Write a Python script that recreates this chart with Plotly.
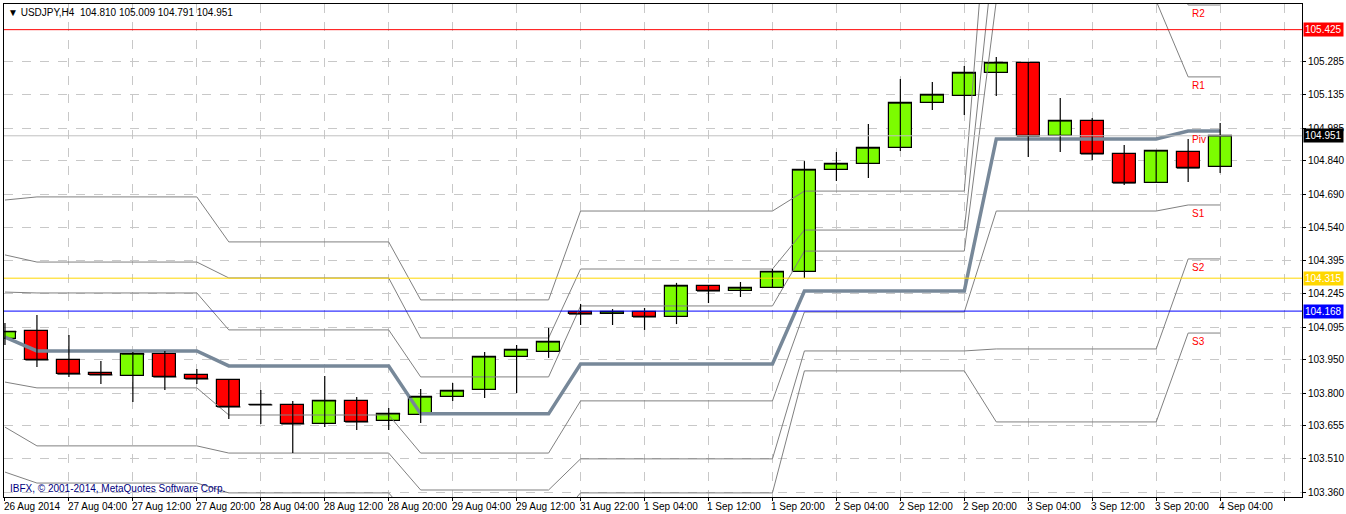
import plotly.graph_objects as go

opens = [104.042,104.079,103.950,103.892,103.878,103.976,103.883,103.860,103.749,103.749,103.664,103.767,103.677,103.704,103.784,103.816,103.963,103.985,104.164,104.155,104.164,104.142,104.280,104.258,104.271,104.343,104.798,104.825,104.896,105.097,105.129,105.231,105.276,104.950,105.017,104.870,104.740,104.879,104.812]
highs = [104.115,104.151,104.061,103.945,103.985,103.990,103.909,103.860,103.816,103.767,103.878,103.784,103.735,103.820,103.847,103.985,104.017,104.093,104.200,104.177,104.182,104.294,104.280,104.298,104.356,104.838,104.879,105.004,105.205,105.191,105.263,105.303,105.276,105.120,105.030,104.910,104.888,104.937,105.008]
lows = [104.017,103.918,103.874,103.842,103.762,103.816,103.842,103.686,103.664,103.534,103.650,103.637,103.637,103.668,103.767,103.780,103.802,103.959,104.106,104.106,104.084,104.110,104.204,104.231,104.271,104.316,104.749,104.762,104.883,105.066,105.044,105.129,104.856,104.879,104.843,104.731,104.740,104.745,104.785]
closes = [104.076,103.950,103.887,103.883,103.976,103.874,103.865,103.740,103.749,103.664,103.767,103.673,103.709,103.784,103.811,103.963,103.994,104.030,104.155,104.164,104.142,104.280,104.258,104.271,104.343,104.798,104.825,104.896,105.097,105.133,105.231,105.276,104.950,105.017,104.870,104.740,104.883,104.807,104.950]

# day index of every candle
candle_day = [0] + [1]*6 + [2]*6 + [3]*5 + [4]*7 + [5]*6 + [6]*6 + [7]*2

# daily pivot levels: R3, R2, R1, Pivot, S1, S2, S3
R3 = [104.664,104.678,104.477,104.218,104.615,104.704,106.491,105.785]
R2 = [104.419,104.387,104.316,104.048,104.356,104.530,105.875,105.535]
R1 = [104.253,104.249,104.084,103.874,104.191,104.436,105.553,105.214]
PIV = [104.052,103.990,103.923,103.709,103.932,104.258,104.937,104.972]
S1 = [103.851,103.825,103.704,103.534,103.767,104.164,104.615,104.642]
S2 = [103.650,103.566,103.534,103.369,103.508,103.990,103.999,104.401]
S3 = [103.449,103.400,103.356,103.190,103.356,103.901,103.673,104.070]

x_labels = {0:"26 Aug 2014",2:"27 Aug 04:00",4:"27 Aug 12:00",6:"27 Aug 20:00",8:"28 Aug 04:00",
            10:"28 Aug 12:00",12:"28 Aug 20:00",14:"29 Aug 04:00",16:"29 Aug 12:00",18:"31 Aug 22:00",
            20:"1 Sep 04:00",22:"1 Sep 12:00",24:"1 Sep 20:00",26:"2 Sep 04:00",28:"2 Sep 12:00",
            30:"2 Sep 20:00",32:"3 Sep 04:00",34:"3 Sep 12:00",36:"3 Sep 20:00",38:"4 Sep 04:00"}
y_ticks = [105.285,105.135,104.985,104.840,104.690,104.540,104.395,104.245,104.095,103.950,103.800,103.655,103.510,103.360]

hlines = [(105.425,"#FF0000","white"),(104.951,"#C0C0C0",None),(104.315,"#FFD700","white"),(104.168,"#0000FF","white")]

FONT = "Liberation Sans"
FS = 10

n = len(opens)
xs = list(range(n))
fig = go.Figure()

for hv, col, _ in hlines:
    fig.add_shape(type="line", xref="paper", x0=0, x1=1, y0=hv, y1=hv, line=dict(color=col, width=1))

for lvl in [R3, R2, R1, S1, S2, S3]:
    fig.add_trace(go.Scatter(x=xs, y=[lvl[d] for d in candle_day], mode="lines",
                             line=dict(color="#808080", width=1), hoverinfo="skip"))
fig.add_trace(go.Scatter(x=xs, y=[PIV[d] for d in candle_day], mode="lines",
                         line=dict(color="#778899", width=3.5), hoverinfo="skip"))

wx, wy = [], []
for i in xs:
    wx += [i, i, None]; wy += [lows[i], highs[i], None]
fig.add_trace(go.Scatter(x=wx, y=wy, mode="lines", line=dict(color="black", width=1.2), hoverinfo="skip"))

cols = ["#7CFC00" if c >= o else "#FF0000" for o, c in zip(opens, closes)]
fig.add_trace(go.Bar(x=xs, base=[min(o, c) for o, c in zip(opens, closes)],
                     y=[abs(c - o) for o, c in zip(opens, closes)], width=0.72,
                     marker=dict(color=cols, line=dict(color="black", width=1.2))))
bx, by = [], []
for i in xs:
    bx += [i-0.36, i+0.36, None]; by += [closes[i], closes[i], None]
fig.add_trace(go.Scatter(x=bx, y=by, mode="lines", line=dict(color="black", width=1.2), hoverinfo="skip"))

ann = []
for i, t in x_labels.items():
    ann.append(dict(x=i, y=0, xref="x", yref="paper", yshift=-2, text=t, showarrow=False,
                    xanchor="left", yanchor="top", xshift=-3, font=dict(size=FS, color="black")))
for hv, col, fc in hlines:
    if fc is None:
        col, fc = "black", "white"
    ann.append(dict(x=1, y=hv, xref="paper", yref="y", text=f"{hv:.3f}", showarrow=False,
                    xanchor="left", yanchor="middle", xshift=1, bgcolor=col, borderpad=1,
                    font=dict(size=FS, color=fc)))
last = candle_day[-1]
for name, lvl in [("R2", R2), ("R1", R1), ("Piv", PIV), ("S1", S1), ("S2", S2), ("S3", S3)]:
    ann.append(dict(x=37.05, y=lvl[last], xref="x", yref="y", text=name, showarrow=False,
                    xanchor="left", yanchor="top", yshift=-1, font=dict(size=FS, color="#FF0000")))
ann.append(dict(x=0, y=1, xref="paper", yref="paper", text="▼ USDJPY,H4  104.810 105.009 104.791 104.951",
                showarrow=False, xanchor="left", yanchor="top", xshift=2, yshift=-1, font=dict(size=FS, color="black")))
ann.append(dict(x=0, y=0, xref="paper", yref="paper", text="IBFX, © 2001-2014, MetaQuotes Software Corp.",
                showarrow=False, xanchor="left", yanchor="bottom", xshift=4, yshift=1, font=dict(size=FS, color="#000080")))

fig.update_layout(
    width=1346, height=514, margin=dict(l=4, r=44, t=4, b=17, autoexpand=False),
    paper_bgcolor="white", plot_bgcolor="white", showlegend=False, bargap=0,
    font=dict(family=FONT, size=FS, color="black"), annotations=ann,
    xaxis=dict(range=[-0.03, 40.56], tickvals=list(range(0, 41, 2)), showticklabels=False, automargin=False,
               showgrid=True, gridcolor="#C8C8C8", griddash="dash", gridwidth=1, zeroline=False,
               showline=True, linecolor="black", mirror=True, ticks="outside", ticklen=3, tickcolor="black"),
    yaxis=dict(range=[103.3377, 105.5396], side="right", tickvals=y_ticks, ticktext=[f"{v:.3f}" for v in y_ticks],
               automargin=False, showgrid=True, gridcolor="#C8C8C8", griddash="dash", gridwidth=1, zeroline=False,
               showline=True, linecolor="black", mirror=True, ticks="outside", ticklen=3, tickcolor="black"),
)
fig.write_html("out.html", config={"displayModeBar": False},
               post_script="document.body.style.margin='0';document.body.style.overflow='hidden';")
